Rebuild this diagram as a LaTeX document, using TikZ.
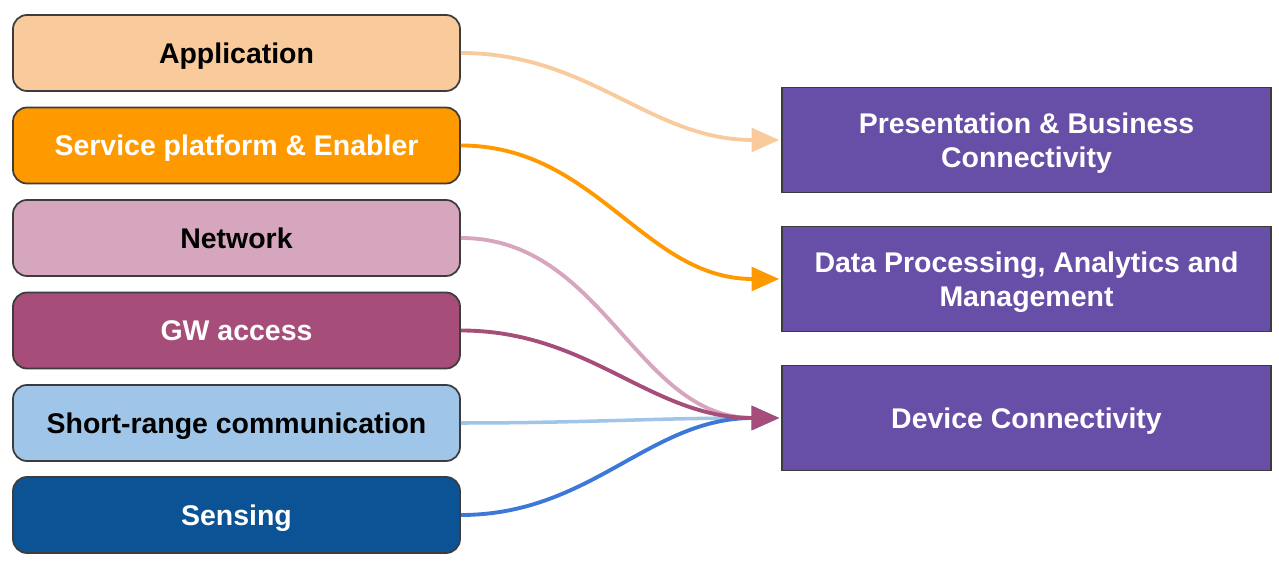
\documentclass[tikz,border=0pt]{standalone}
\usepackage{fontspec}
\setmainfont{Liberation Sans}
\usepackage{tikz}
\usetikzlibrary{arrows.meta}
\definecolor{appcol}{HTML}{F9CB9C}
\definecolor{servcol}{HTML}{FF9900}
\definecolor{netcol}{HTML}{D5A6BD}
\definecolor{gwcol}{HTML}{A64D79}
\definecolor{srccol}{HTML}{9FC5E8}
\definecolor{sensecol}{HTML}{0B5394}
\definecolor{senselink}{HTML}{3C78D8}
\definecolor{layercol}{HTML}{674EA7}
\definecolor{edgecol}{HTML}{3C3C3C}
\tikzstyle{layer}=[draw=edgecol,line width=1pt,rounded corners=8pt,minimum width=8.94cm,minimum height=1.52cm,inner sep=0pt,text depth=0pt,font=\fontsize{16.2}{19.4}\selectfont\bfseries]
\tikzstyle{block}=[draw=edgecol,line width=0.9pt,fill=layercol,text=white,minimum width=9.78cm,minimum height=2.1cm,inner sep=0pt,text depth=0pt,align=center,font=\fontsize{16.2}{19.4}\selectfont\bfseries]
\tikzstyle{link}=[line width=2.2pt,-{Triangle[length=0.55cm,width=0.47cm]}]

\begin{document}
\begin{tikzpicture}
    \useasboundingbox (0,0) rectangle (25.58,-11.3);
    \node[layer,fill=appcol] (App) at (4.73,-1.06) {Application};
    \node[layer,fill=servcol,text=white] (Serv) at (4.73,-2.91) {Service platform \& Enabler};
    \node[layer,fill=netcol] (Net) at (4.73,-4.76) {Network};
    \node[layer,fill=gwcol,text=white] (GW) at (4.73,-6.61) {GW access};
    \node[layer,fill=srccol] (SRC) at (4.73,-8.46) {Short-range communication};
    \node[layer,fill=sensecol,text=white] (Sense) at (4.73,-10.3) {Sensing};
    \node[block] (Pres) at (20.53,-2.8) {Presentation \& Business\\Connectivity};
    \node[block] (Data) at (20.53,-5.58) {Data Processing, Analytics and\\Management};
    \node[block] (Dev) at (20.53,-8.36) {Device Connectivity};
	 \draw[link,appcol] (App.east) to[out=0,in=180] ([xshift=-0.04cm]Pres.west);
	 \draw[link,servcol] (Serv.east) to[out=0,in=180] ([xshift=-0.04cm]Data.west);
	 \draw[link,netcol] (Net.east) to[out=0,in=180] ([xshift=-0.04cm]Dev.west);
	 \draw[link,srccol,line width=2pt] (SRC.east) to[out=0,in=180] ([xshift=-0.04cm]Dev.west);
	 \draw[link,senselink] (Sense.east) to[out=0,in=180] ([xshift=-0.04cm]Dev.west);
	 \draw[link,gwcol] (GW.east) to[out=0,in=180] ([xshift=-0.04cm]Dev.west);
\end{tikzpicture}
\end{document}
